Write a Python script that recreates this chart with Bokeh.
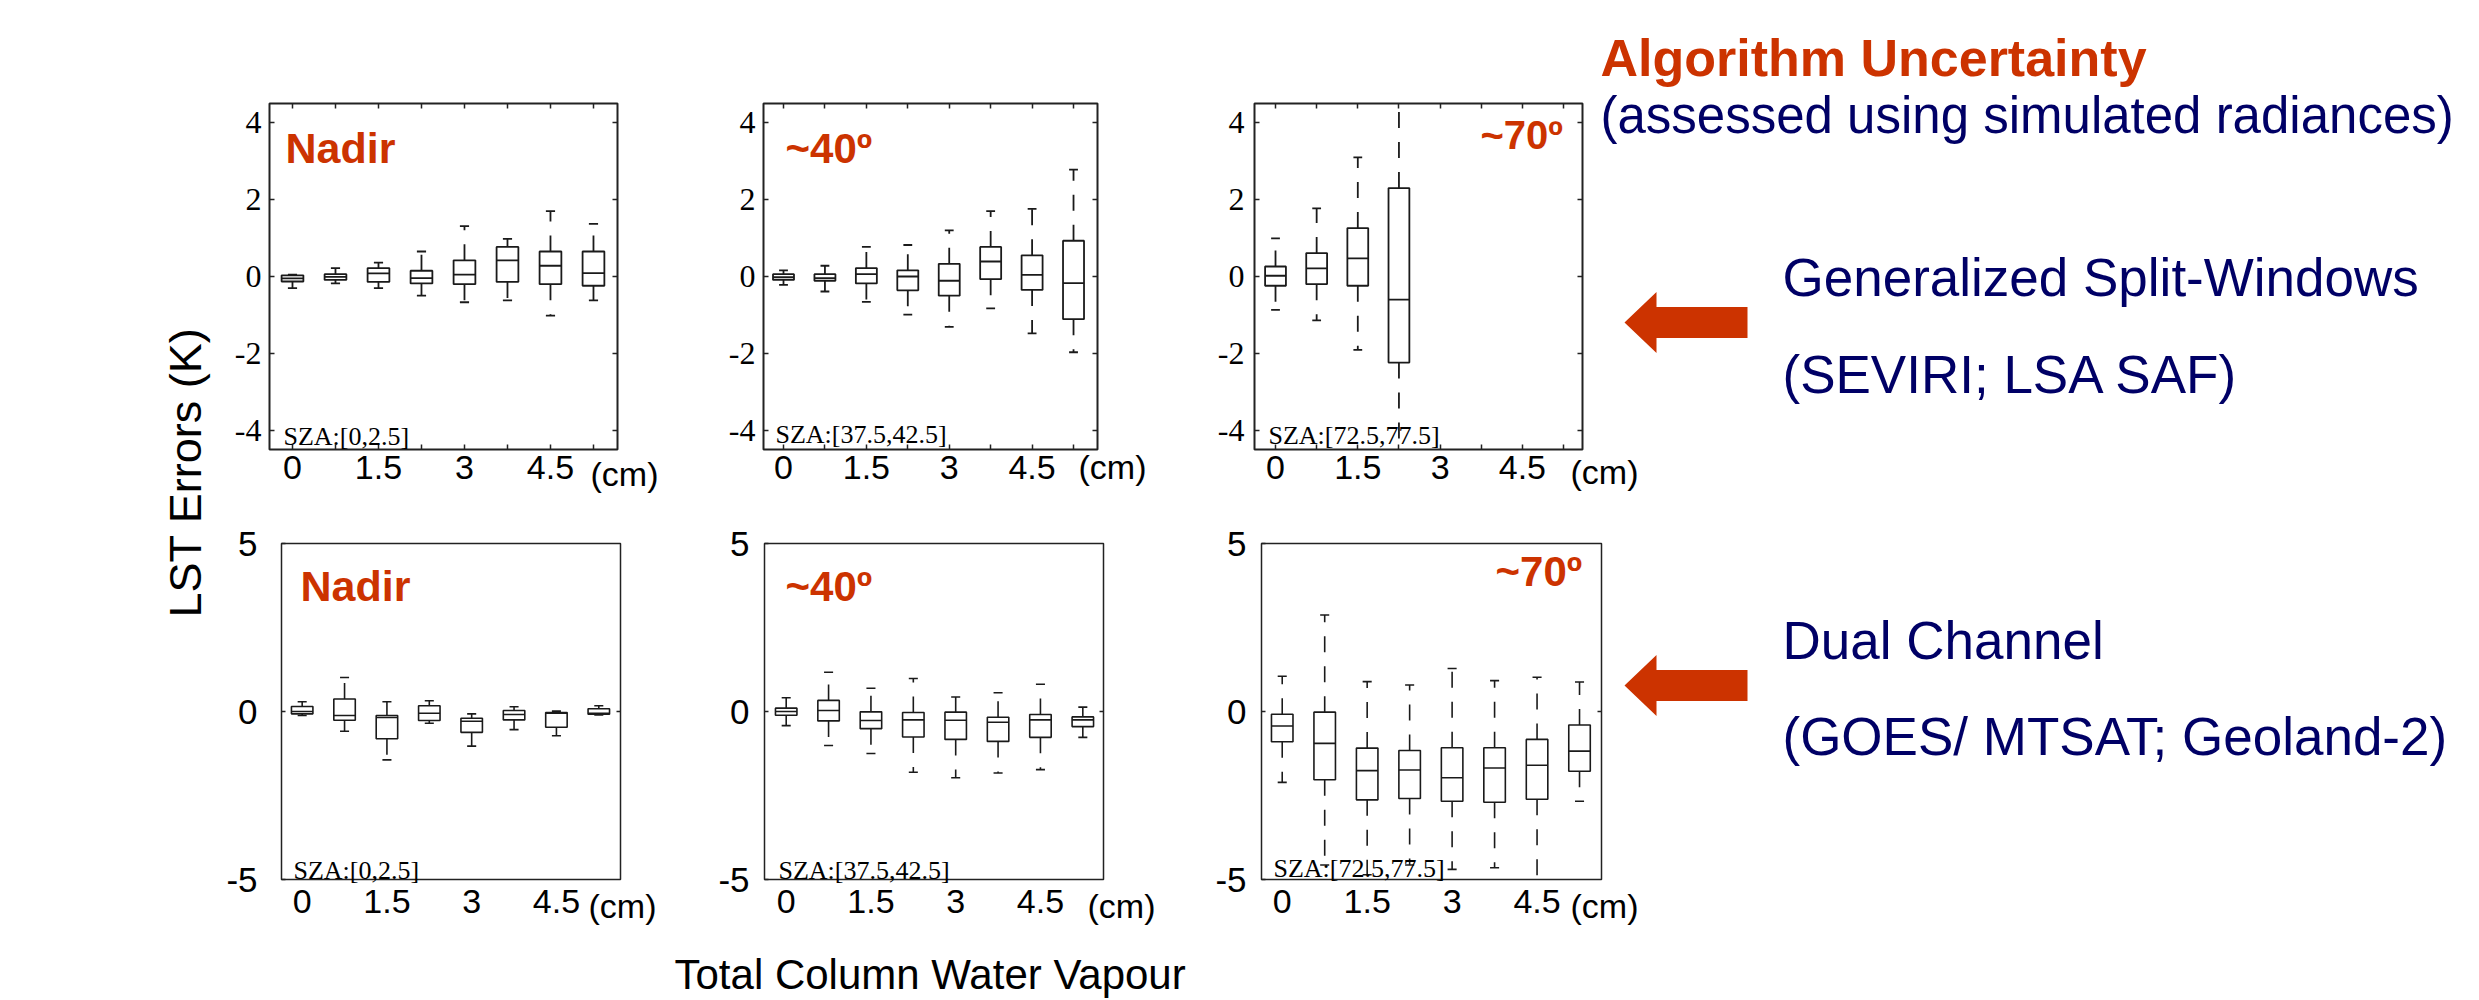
from bokeh.plotting import figure
from bokeh.models import (Range1d, LinearAxis, FixedTicker, Label, PolyAnnotation,
                          ColumnDataSource, GridBox, Spacer)
from bokeh.layouts import row, column
from bokeh.transform import dodge
from bokeh.embed import file_html
from bokeh.resources import INLINE

# ---------------- data ----------------
TCWV = [0.0, 0.75, 1.5, 2.25, 3.0, 3.75, 4.5, 5.25]          # cm (bin positions)
X_TICKS = [0.0, 1.5, 3.0, 4.5]
X_TICK_LABELS = ["0", "1.5", "3", "4.5"]
Y_TICKS_TOP = [-4, -2, 0, 2, 4]
Y_TICK_LABELS_TOP = ["-4", "-2", "0", "2", "4"]
Y_TICKS_BOT = [-5, 0, 5]
Y_TICK_LABELS_BOT = ["-5", "0", "5"]

# Generalized Split-Windows, Nadir (SZA 0-2.5)
GSW_NADIR_Q1 = [-0.13, -0.09, -0.14, -0.18, -0.20, -0.14, -0.20, -0.24]
GSW_NADIR_MED = [-0.05, -0.01, 0.08, -0.04, 0.05, 0.42, 0.28, 0.09]
GSW_NADIR_Q3 = [0.03, 0.06, 0.22, 0.15, 0.42, 0.77, 0.65, 0.65]
GSW_NADIR_LO = [-0.30, -0.18, -0.30, -0.50, -0.67, -0.62, -1.02, -0.62]
GSW_NADIR_HI = [0.05, 0.22, 0.36, 0.65, 1.31, 0.98, 1.70, 1.37]

# Generalized Split-Windows, ~40 deg (SZA 37.5-42.5)
GSW_40_Q1 = [-0.09, -0.11, -0.18, -0.36, -0.50, -0.07, -0.35, -1.11]
GSW_40_MED = [-0.02, -0.04, 0.06, 0.00, -0.11, 0.39, 0.04, -0.17]
GSW_40_Q3 = [0.06, 0.06, 0.22, 0.16, 0.33, 0.77, 0.55, 0.93]
GSW_40_LO = [-0.22, -0.39, -0.66, -0.99, -1.31, -0.83, -1.48, -1.97]
GSW_40_HI = [0.16, 0.28, 0.77, 0.82, 1.20, 1.70, 1.76, 2.78]

# Generalized Split-Windows, ~70 deg (SZA 72.5-77.5) - only first 4 bins
GSW_70_Q1 = [-0.24, -0.20, -0.24, -2.24]
GSW_70_MED = [0.02, 0.21, 0.47, -0.60]
GSW_70_Q3 = [0.26, 0.61, 1.26, 2.30]
GSW_70_LO = [-0.87, -1.14, -1.91, -5.00]
GSW_70_HI = [0.99, 1.77, 3.10, 5.00]

# Dual Channel, Nadir
DC_NADIR_Q1 = [-0.07, -0.26, -0.81, -0.27, -0.62, -0.25, -0.47, -0.08]
DC_NADIR_MED = [0.00, -0.12, -0.18, -0.05, -0.29, -0.09, -0.05, -0.05]
DC_NADIR_Q3 = [0.15, 0.37, -0.12, 0.17, -0.20, 0.03, -0.03, 0.08]
DC_NADIR_LO = [-0.12, -0.59, -1.44, -0.35, -1.03, -0.54, -0.72, -0.10]
DC_NADIR_HI = [0.29, 1.01, 0.29, 0.32, -0.07, 0.14, 0.01, 0.17]

# Dual Channel, ~40 deg
DC_40_Q1 = [-0.11, -0.28, -0.51, -0.76, -0.83, -0.89, -0.77, -0.45]
DC_40_MED = [0.00, 0.03, -0.27, -0.25, -0.26, -0.32, -0.25, -0.25]
DC_40_Q3 = [0.10, 0.33, -0.01, -0.03, -0.02, -0.17, -0.09, -0.16]
DC_40_LO = [-0.42, -1.01, -1.25, -1.81, -1.97, -1.83, -1.73, -0.77]
DC_40_HI = [0.41, 1.17, 0.69, 0.98, 0.43, 0.56, 0.81, 0.13]

# Dual Channel, ~70 deg
DC_70_Q1 = [-0.90, -2.03, -2.63, -2.59, -2.67, -2.70, -2.61, -1.78]
DC_70_MED = [-0.43, -0.95, -1.76, -1.74, -1.97, -1.68, -1.60, -1.18]
DC_70_Q3 = [-0.08, -0.02, -1.09, -1.16, -1.08, -1.08, -0.83, -0.40]
DC_70_LO = [-2.11, -4.57, -4.86, -4.57, -4.70, -4.65, -5.30, -2.67]
DC_70_HI = [1.05, 2.87, 0.89, 0.79, 1.28, 0.92, 1.02, 0.88]

# ---------------- style ----------------
RED = "#CC3300"
NAVY = "#000066"
INK = "#1a1a1a"
SANS = "Liberation Sans"
SERIF = "Liberation Serif"
BOX_W = 0.38
CAP_W = 0.16
DASH = "16 14"
PAGE_W, PAGE_H = 2477, 999
MID_SHIFT = 0.34   # distance (in em) between text middle and its baseline


def make_panel(origin, size, frame, xr, yr, top_row, ystandoff):
    ox, oy = origin
    fw, fh = size
    L, R, T, B = frame
    p = figure(width=fw, height=fh, x_range=Range1d(*xr), y_range=Range1d(*yr),
               x_axis_type=None, y_axis_type=None, toolbar_location=None,
               output_backend="svg", title=None,
               min_border_left=L - ox, min_border_right=ox + fw - R,
               min_border_top=T - oy, min_border_bottom=oy + fh - B)
    p.outline_line_color = "#222222"
    p.outline_line_width = 2 if top_row else 1.5
    p.background_fill_color = "white"
    p.border_fill_color = "white"

    xt = TCWV if top_row else X_TICKS
    xover = {t: "" for t in xt}
    for t, lab in zip(X_TICKS, X_TICK_LABELS):
        xover[t] = lab
    below = LinearAxis(ticker=FixedTicker(ticks=xt), major_label_overrides=xover,
                       major_tick_in=5 if top_row else 0, major_tick_out=0,
                       axis_line_color=None, major_tick_line_color="#222222",
                       major_tick_line_width=1.5,
                       major_label_text_font=SANS, major_label_text_font_size="34px",
                       major_label_text_color="black",
                       major_label_standoff=6 if top_row else 10)
    p.add_layout(below, "below")

    yt = Y_TICKS_TOP if top_row else Y_TICKS_BOT
    ylab = Y_TICK_LABELS_TOP if top_row else Y_TICK_LABELS_BOT
    left = LinearAxis(ticker=FixedTicker(ticks=yt), major_tick_in=5 if top_row else 4,
                      major_tick_out=0, axis_line_color=None,
                      major_label_overrides=dict(zip(yt, ylab)),
                      major_tick_line_color="#222222", major_tick_line_width=1.5,
                      major_label_text_font=SERIF if top_row else SANS,
                      major_label_text_font_size="32px" if top_row else "35px",
                      major_label_text_color="black",
                      major_label_standoff=ystandoff)
    p.add_layout(left, "left")

    right = LinearAxis(ticker=FixedTicker(ticks=yt if top_row else [0]),
                       major_tick_in=5 if top_row else 4, major_tick_out=0,
                       axis_line_color=None, major_tick_line_color="#222222",
                       major_tick_line_width=1.5, major_label_text_font_size="10px",
                       major_label_text_color=None, major_label_standoff=0)
    p.add_layout(right, "right")
    if top_row:
        above = LinearAxis(ticker=FixedTicker(ticks=TCWV), major_tick_in=5,
                           major_tick_out=0, axis_line_color=None,
                           major_tick_line_color="#222222", major_tick_line_width=1.5,
                           major_label_text_font_size="10px",
                           major_label_text_color=None, major_label_standoff=0)
        p.add_layout(above, "above")
    return p


def draw_boxes(p, xs, q1, med, q3, lo, hi, lw):
    n = len(q1)
    src = ColumnDataSource(dict(x=list(xs[:n]), q1=q1, med=med, q3=q3, lo=lo, hi=hi))
    p.segment(x0="x", y0="q3", x1="x", y1="hi", source=src, line_color=INK,
              line_width=lw, line_dash=DASH)
    p.segment(x0="x", y0="q1", x1="x", y1="lo", source=src, line_color=INK,
              line_width=lw, line_dash=DASH)
    p.segment(x0=dodge("x", -CAP_W / 2), y0="hi", x1=dodge("x", CAP_W / 2), y1="hi",
              source=src, line_color=INK, line_width=lw)
    p.segment(x0=dodge("x", -CAP_W / 2), y0="lo", x1=dodge("x", CAP_W / 2), y1="lo",
              source=src, line_color=INK, line_width=lw)
    p.vbar(x="x", width=BOX_W, top="q3", bottom="q1", source=src,
           fill_color="white", line_color=INK, line_width=lw)
    p.segment(x0=dodge("x", -BOX_W / 2), y0="med", x1=dodge("x", BOX_W / 2), y1="med",
              source=src, line_color=INK, line_width=lw)


panels = [
    dict(o=(215, 0), s=(475, 505), f=(269, 617, 101, 451), xr=(-0.401, 5.669), yr=(-4.5, 4.5), top=True, ys=8,
         d=(GSW_NADIR_Q1, GSW_NADIR_MED, GSW_NADIR_Q3, GSW_NADIR_LO, GSW_NADIR_HI),
         t="Nadir", tp=(285, 162), ts=43, sza="SZA:[0,2.5]", sp=(283, 445), cm=(590, 485)),
    dict(o=(690, 0), s=(480, 505), f=(763, 1097, 103, 449), xr=(-0.362, 5.684), yr=(-4.5, 4.5), top=True, ys=8,
         d=(GSW_40_Q1, GSW_40_MED, GSW_40_Q3, GSW_40_LO, GSW_40_HI),
         t="~40º", tp=(785, 162), ts=42, sza="SZA:[37.5,42.5]", sp=(775, 443), cm=(1078, 478)),
    dict(o=(1170, 0), s=(1307, 505), f=(1254, 1582, 101, 451), xr=(-0.383, 5.596), yr=(-4.5, 4.5), top=True, ys=10,
         d=(GSW_70_Q1, GSW_70_MED, GSW_70_Q3, GSW_70_LO, GSW_70_HI),
         t="~70º", tp=(1480, 148), ts=40, sza="SZA:[72.5,77.5]", sp=(1268, 444), cm=(1570, 483)),
    dict(o=(215, 505), s=(485, 430), f=(281, 620, 543, 882), xr=(-0.366, 5.634), yr=(-5, 5), top=False, ys=24,
         d=(DC_NADIR_Q1, DC_NADIR_MED, DC_NADIR_Q3, DC_NADIR_LO, DC_NADIR_HI),
         t="Nadir", tp=(300, 600), ts=43, sza="SZA:[0,2.5]", sp=(293, 879), cm=(588, 917)),
    dict(o=(700, 505), s=(490, 430), f=(764, 1103, 542, 882), xr=(-0.384, 5.616), yr=(-5, 5), top=False, ys=15,
         d=(DC_40_Q1, DC_40_MED, DC_40_Q3, DC_40_LO, DC_40_HI),
         t="~40º", tp=(785, 600), ts=42, sza="SZA:[37.5,42.5]", sp=(778, 879), cm=(1087, 917)),
    dict(o=(1190, 505), s=(1287, 430), f=(1261, 1601, 540, 879), xr=(-0.366, 5.638), yr=(-5, 5), top=False, ys=15,
         d=(DC_70_Q1, DC_70_MED, DC_70_Q3, DC_70_LO, DC_70_HI),
         t="~70º", tp=(1495, 585), ts=42, sza="SZA:[72.5,77.5]", sp=(1273, 877), cm=(1570, 917)),
]

figs = []
for cfg in panels:
    p = make_panel(cfg["o"], cfg["s"], cfg["f"], cfg["xr"], cfg["yr"], cfg["top"], cfg["ys"])
    q1, med, q3, lo, hi = cfg["d"]
    draw_boxes(p, TCWV, q1, med, q3, lo, hi, 1.8 if cfg["top"] else 1.6)
    figs.append(p)

p1, p2, p3, p4, p5, p6 = figs

# ------------- transparent overlay for all free text (page pixel coordinates) -------------
ov = figure(width=PAGE_W, height=PAGE_H, x_range=Range1d(0, PAGE_W), y_range=Range1d(PAGE_H, 0),
            x_axis_type=None, y_axis_type=None, toolbar_location=None, title=None,
            output_backend="svg", min_border=0, outline_line_color=None,
            background_fill_color=None, border_fill_color=None)


def lab(x, y_base, text, size, color="black", font=SANS, bold=False, align="left", angle=0,
        centered=False):
    # y_base is the text baseline in page pixels; the label is anchored at its middle
    y = y_base if centered else y_base - MID_SHIFT * size
    ov.add_layout(Label(x=x, y=y, text=text, text_font=font, text_font_size=f"{size}px",
                        text_color=color, text_font_style="bold" if bold else "normal",
                        text_align=align, text_baseline="middle",
                        angle=angle, angle_units="deg"))


for cfg in panels:
    lab(cfg["tp"][0], cfg["tp"][1], cfg["t"], cfg["ts"], color=RED, bold=True)
    lab(cfg["sp"][0], cfg["sp"][1], cfg["sza"], 26, font=SERIF)
    lab(cfg["cm"][0], cfg["cm"][1], "(cm)", 34)

lab(185, 472, "LST Errors (K)", 45, align="center", angle=90, centered=True)
lab(674, 988, "Total Column Water Vapour", 42)

lab(1600, 75, "Algorithm Uncertainty", 52, color=RED, bold=True)
lab(1600, 132, "(assessed using simulated radiances)", 51, color=NAVY)
lab(1782, 295, "Generalized Split-Windows", 53, color=NAVY)
lab(1782, 392, "(SEVIRI; LSA SAF)", 53, color=NAVY)
lab(1782, 658, "Dual Channel", 53, color=NAVY)
lab(1782, 754, "(GOES/ MTSAT; Geoland-2)", 53, color=NAVY)


def arrow(tip_x, cy):
    xs = [tip_x, tip_x + 32, tip_x + 32, tip_x + 123, tip_x + 123, tip_x + 32, tip_x + 32]
    ys = [cy, cy - 30.5, cy - 15.5, cy - 15.5, cy + 15.5, cy + 15.5, cy + 30.5]
    ov.add_layout(PolyAnnotation(xs=xs, ys=ys, fill_color=RED, fill_alpha=1.0,
                                 line_color=None))


arrow(1624, 322)
arrow(1624, 685)

main = row(Spacer(width=215, height=935), column(row(p1, p2, p3), row(p4, p5, p6)))
page = GridBox(children=[(main, 0, 0), (ov, 0, 0)], spacing=0)

open("out.html", "w").write(file_html(page, INLINE))
